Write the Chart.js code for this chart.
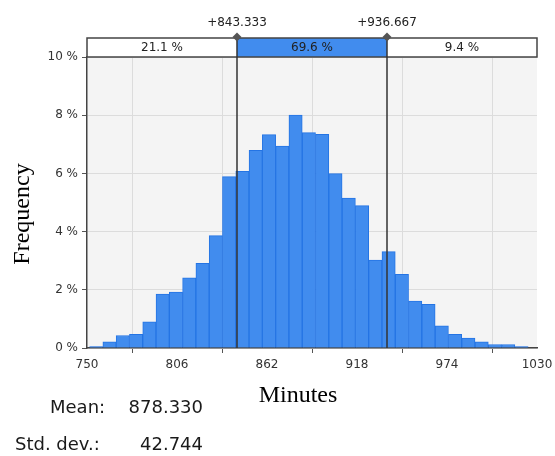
<!DOCTYPE html>
<html>
<head>
<meta charset="utf-8">
<script src="https://cdn.jsdelivr.net/npm/chart.js@4.4.1/dist/chart.umd.min.js"></script>
<style>
  html, body { margin: 0; padding: 0; background: #fff; }
</style>
</head>
<body>
<canvas id="myChart" width="555" height="456"></canvas>
<script>
// histogram bins (minutes)
var binStart = 751.6;
var binWidth = 8.27;
// frequency of each bin, in %
var frequency = [
  0.05, 0.21, 0.43, 0.47, 0.90, 1.85, 1.92, 2.41, 2.91, 3.86, 5.89,
  6.07, 6.79, 7.33, 6.94, 8.00, 7.40, 7.34, 5.99, 5.15, 4.89, 3.02,
  3.31, 2.53, 1.61, 1.50, 0.76, 0.47, 0.34, 0.21, 0.12, 0.12, 0.05,
];
var xTicks = [750, 806, 862, 918, 974, 1030];
var yTicks = [0, 2, 4, 6, 8, 10];
var markers = [843.333, 936.667];
var markerLabels = ['+843.333', '+936.667'];
var shares = ['21.1 %', '69.6 %', '9.4 %'];
var statNames = ['Mean:', 'Std. dev.:'];
var statValues = ['878.330', '42.744'];

var points = frequency.map(function (f, i) {
  return { x: binStart + binWidth * (i + 0.5), y: f };
});

var tickFont = { family: 'DejaVu Sans', size: 12 };

// plot background, marker lines, the split bar on top, titles and stats
var extras = {
  id: 'extras',
  beforeDraw: function (chart) {
    var a = chart.chartArea, ctx = chart.ctx;
    ctx.save();
    ctx.fillStyle = '#f4f4f4';
    ctx.fillRect(a.left, a.top, a.right - a.left, a.bottom - a.top);
    ctx.restore();
  },
  afterDraw: function (chart) {
    var a = chart.chartArea, ctx = chart.ctx, x = chart.scales.x;
    var barTop = a.top - 19;
    var edges = [a.left, x.getPixelForValue(markers[0]), x.getPixelForValue(markers[1]), a.right];
    ctx.save();

    // split bar
    ctx.fillStyle = '#fff';
    ctx.fillRect(a.left, barTop, a.right - a.left, a.top - barTop);
    ctx.fillStyle = '#418cee';
    ctx.fillRect(edges[1], barTop, edges[2] - edges[1], a.top - barTop);
    ctx.strokeStyle = '#444';
    ctx.lineWidth = 1.5;
    ctx.strokeRect(a.left, barTop, a.right - a.left, a.top - barTop);

    ctx.font = '12px "DejaVu Sans"';
    ctx.fillStyle = '#222';
    ctx.textAlign = 'center';
    ctx.textBaseline = 'middle';
    for (var i = 0; i < 3; i++) {
      ctx.fillText(shares[i], (edges[i] + edges[i + 1]) / 2, barTop + 10);
    }

    // marker lines with diamonds
    for (var m = 0; m < markers.length; m++) {
      var px = edges[m + 1];
      ctx.strokeStyle = '#333';
      ctx.lineWidth = 1.5;
      ctx.beginPath();
      ctx.moveTo(px, barTop);
      ctx.lineTo(px, a.bottom);
      ctx.stroke();
      ctx.fillStyle = '#555';
      ctx.beginPath();
      ctx.moveTo(px, barTop - 5.5);
      ctx.lineTo(px + 4.5, barTop - 1);
      ctx.lineTo(px, barTop + 3.5);
      ctx.lineTo(px - 4.5, barTop - 1);
      ctx.closePath();
      ctx.fill();
      ctx.fillStyle = '#222';
      ctx.textBaseline = 'alphabetic';
      ctx.fillText(markerLabels[m], px, 26);
    }

    // axis titles
    ctx.fillStyle = '#000';
    ctx.font = '24px "Liberation Serif"';
    ctx.textAlign = 'center';
    ctx.textBaseline = 'alphabetic';
    ctx.fillText('Minutes', 298, 402);
    ctx.save();
    ctx.translate(29, 214);
    ctx.rotate(-Math.PI / 2);
    ctx.fillText('Frequency', 0, 0);
    ctx.restore();

    // stats
    ctx.font = '18px "DejaVu Sans"';
    ctx.fillStyle = '#1a1a1a';
    var statX = [50, 15], statY = [413, 450];
    for (var s = 0; s < statNames.length; s++) {
      ctx.textAlign = 'left';
      ctx.fillText(statNames[s], statX[s], statY[s]);
      ctx.textAlign = 'right';
      ctx.fillText(statValues[s], 203, statY[s]);
    }
    ctx.restore();
  },
};

var ctx = document.getElementById('myChart').getContext('2d');
var myChart = new Chart(ctx, {
  type: 'bar',
  data: {
    datasets: [
      {
        data: points,
        backgroundColor: '#418cee',
        borderColor: '#2474e4',
        borderWidth: 1,
        barPercentage: 1,
        categoryPercentage: 1,
      },
    ],
  },
  options: {
    responsive: false,
    animation: false,
    layout: { padding: { left: 0, top: 57, right: 18, bottom: 0 } },
    plugins: { legend: { display: false }, tooltip: { enabled: false } },
    scales: {
      x: {
        type: 'linear',
        offset: false,
        min: 750,
        max: 1030,
        afterBuildTicks: function (s) {
          s.ticks = xTicks.map(function (v) { return { value: v }; });
        },
        afterFit: function (s) {
          s.height = 108;
          s.paddingLeft = 0;
          s.paddingRight = 0;
        },
        grid: { color: '#dcdcdc', tickColor: '#555', tickLength: 5 },
        border: { color: '#444', width: 1.5 },
        ticks: {
          font: tickFont,
          color: '#333',
          padding: 5,
          maxRotation: 0,
          callback: function (v) { return String(v); },
        },
      },
      y: {
        min: 0,
        max: 10,
        afterBuildTicks: function (s) {
          s.ticks = yTicks.map(function (v) { return { value: v }; });
        },
        afterFit: function (s) { s.width = 87; },
        grid: { color: '#dcdcdc', tickColor: '#555', tickLength: 5 },
        border: { color: '#444', width: 1.5 },
        ticks: {
          font: tickFont,
          color: '#333',
          padding: 4,
          callback: function (v) { return v + ' %'; },
        },
      },
    },
  },
  plugins: [extras],
});
</script>
</body>
</html>
